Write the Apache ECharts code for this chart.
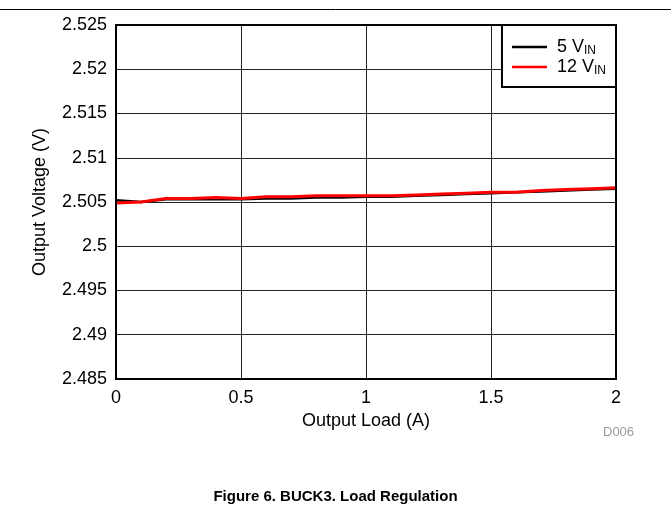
<!DOCTYPE html>
<html>
<head>
<meta charset="utf-8">
<script src="https://cdn.jsdelivr.net/npm/echarts@6/dist/echarts.min.js"></script>
<style>html,body{margin:0;padding:0;background:#fff}#c{width:671px;height:508px}</style>
</head>
<body>
<div id="c"></div>
<script>
const loadA = [0, 0.1, 0.2, 0.3, 0.4, 0.5, 0.6, 0.7, 0.8, 0.9, 1.0, 1.1, 1.2, 1.3, 1.4, 1.5, 1.6, 1.7, 1.8, 1.9, 2.0];
const vout5 = [2.5052, 2.5050, 2.5053, 2.5053, 2.5053, 2.5053, 2.5054, 2.5054, 2.5055, 2.5055, 2.5056, 2.5056, 2.5057, 2.5058, 2.5059, 2.5060, 2.5061, 2.5062, 2.5063, 2.5064, 2.5065];
const vout12 = [2.5049, 2.5050, 2.5054, 2.5054, 2.5055, 2.5054, 2.5056, 2.5056, 2.5057, 2.5057, 2.5057, 2.5057, 2.5058, 2.5059, 2.5060, 2.5061, 2.5061, 2.5063, 2.5064, 2.5065, 2.5066];
const seriesNames = ['5 VIN', '12 VIN'];
const xTitle = 'Output Load (A)';
const yTitle = 'Output Voltage (V)';
const figTitle = 'Figure 6. BUCK3. Load Regulation';
const docId = 'D006';

const FONT = '"Liberation Sans", Arial, sans-serif';
const chart = echarts.init(document.getElementById('c'), null, {renderer: 'canvas'});
const pairs = (xs, ys) => xs.map((x, i) => [x, ys[i]]);
chart.setOption({
  animation: false,
  backgroundColor: '#fff',
  textStyle: {fontFamily: FONT},
  grid: {left: 116, right: 55, top: 25, bottom: 129, show: true, borderColor: '#000', borderWidth: 2, z: 3},
  xAxis: {
    type: 'value', min: 0, max: 2, interval: 0.5,
    name: xTitle, nameLocation: 'middle', nameGap: 32,
    nameTextStyle: {fontSize: 18, color: '#000', fontFamily: FONT},
    axisLine: {show: false}, axisTick: {show: false},
    axisLabel: {fontSize: 18, color: '#000', margin: 10, fontFamily: FONT},
    splitLine: {show: true, lineStyle: {color: '#222', width: 1}}
  },
  yAxis: {
    type: 'value', min: 2.485, max: 2.525, interval: 0.005,
    name: yTitle, nameLocation: 'middle', nameGap: 67,
    nameTextStyle: {fontSize: 18, color: '#000', fontFamily: FONT},
    axisLine: {show: false}, axisTick: {show: false},
    axisLabel: {fontSize: 18, color: '#000', margin: 9, fontFamily: FONT,
      formatter: v => String(parseFloat(v.toFixed(4)))},
    splitLine: {show: true, lineStyle: {color: '#222', width: 1}}
  },
  legend: {
    right: 55, top: 25, orient: 'vertical', align: 'left',
    backgroundColor: '#fff', borderColor: '#000', borderWidth: 2, borderRadius: 0,
    padding: [13, 10, 10, 10], itemWidth: 35, itemHeight: 14, itemGap: 1,
    icon: 'path://M0,0 L35,0 L35,2.5 L0,2.5 Z',
    data: seriesNames,
    formatter: n => {
      const num = n.split(' ')[0];
      return '{n|' + num + ' V}{s|IN}';
    },
    textStyle: {
      fontFamily: FONT, color: '#000',
      rich: {
        n: {fontSize: 18, lineHeight: 20, padding: [0, 0, 0, 5], fontFamily: FONT},
        s: {fontSize: 12, lineHeight: 20, verticalAlign: 'bottom', padding: [7, 0, 0, 0], fontFamily: FONT}
      }
    },
    z: 5
  },
  series: [
    {name: seriesNames[0], type: 'line', data: pairs(loadA, vout5), showSymbol: false, symbol: 'none',
      lineStyle: {color: '#000', width: 2.5}, itemStyle: {color: '#000'}, z: 2},
    {name: seriesNames[1], type: 'line', data: pairs(loadA, vout12), showSymbol: false, symbol: 'none',
      lineStyle: {color: '#ff0000', width: 3}, itemStyle: {color: '#ff0000'}, z: 2}
  ],
  graphic: [
    {type: 'line', shape: {x1: 0, y1: 9.5, x2: 671, y2: 9.5}, style: {stroke: '#000', lineWidth: 1}},
    {type: 'text', left: 603, top: 426, style: {text: docId, fill: '#999', font: '13px ' + FONT}},
    {type: 'text', left: 'center', top: 489, style: {text: figTitle, fill: '#000', font: 'bold 15px ' + FONT}}
  ]
});
</script>
</body>
</html>
